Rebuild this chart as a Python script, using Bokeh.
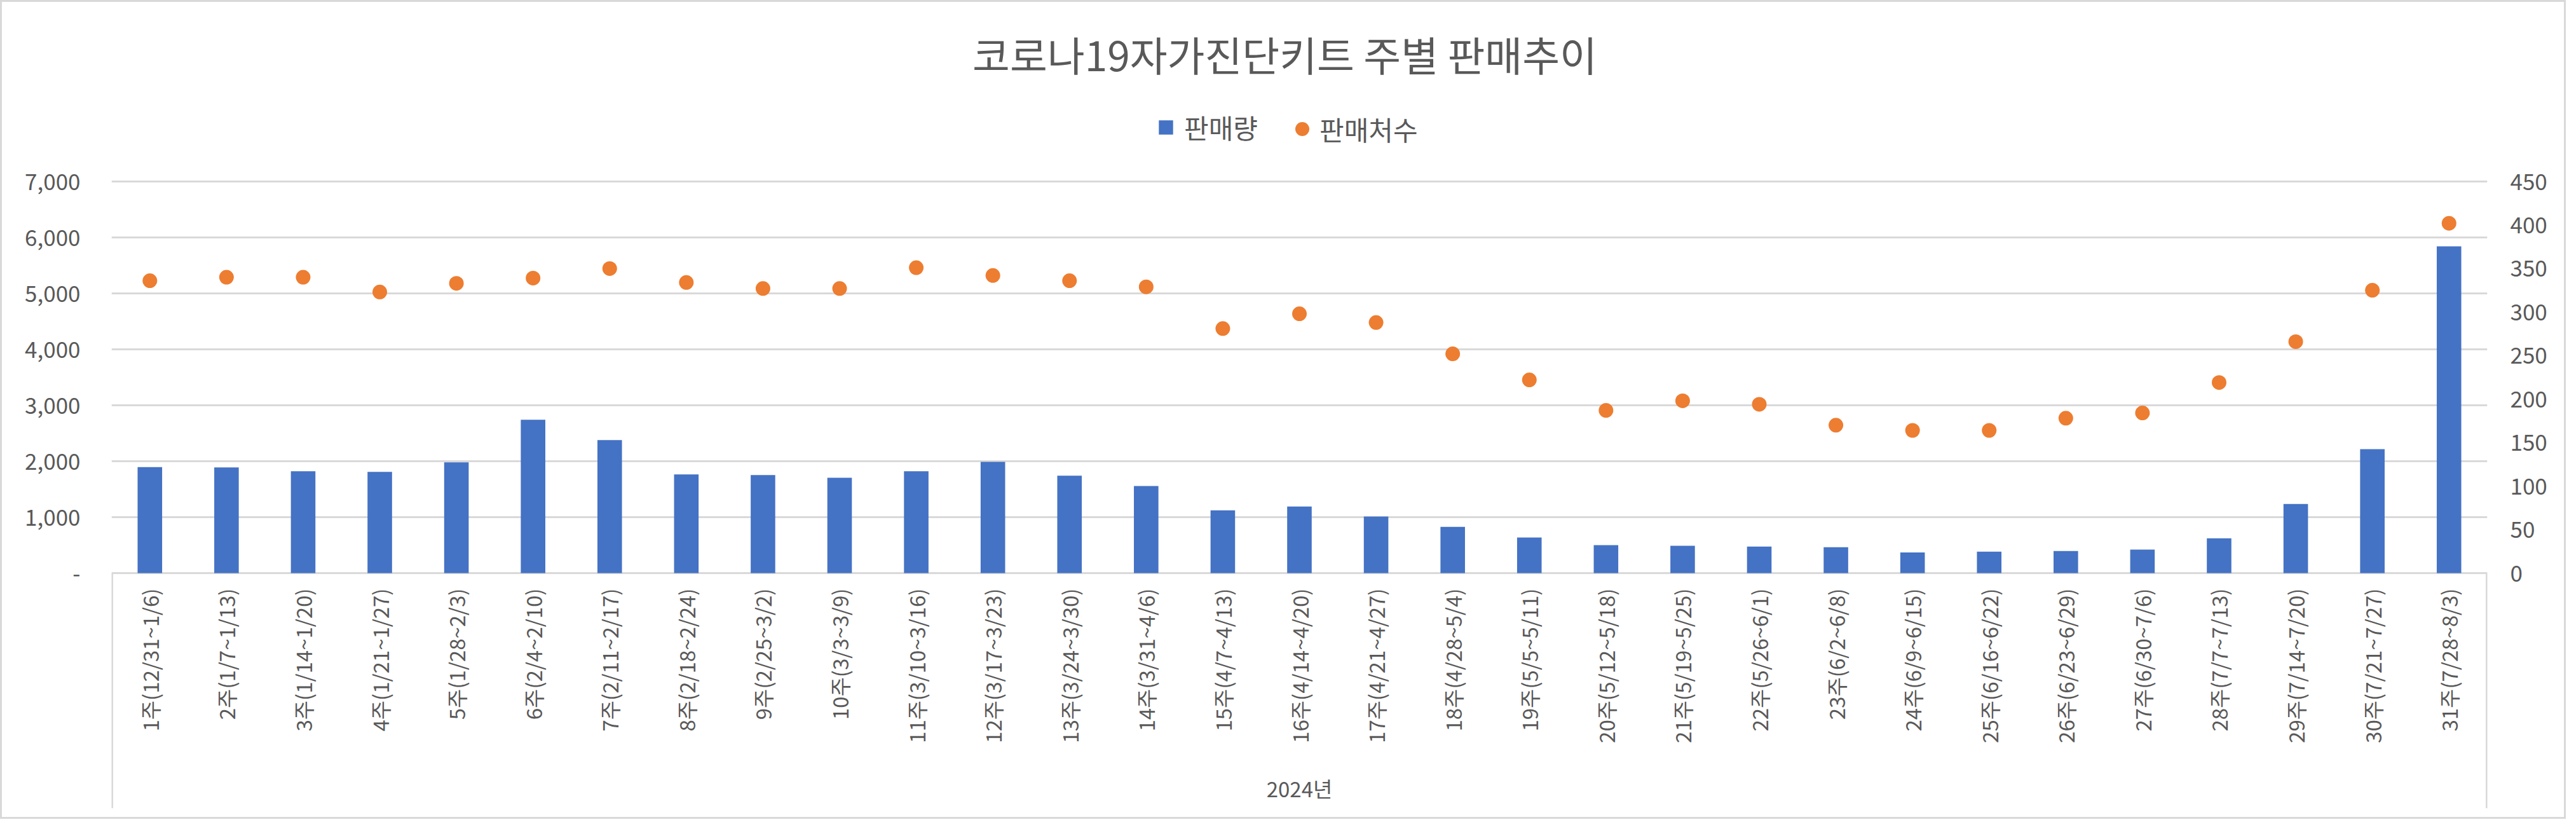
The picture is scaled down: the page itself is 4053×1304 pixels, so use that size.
import math
from bokeh.plotting import figure
from bokeh.models import (FactorRange, Range1d, LinearAxis, FixedTicker, NumeralTickFormatter,
                          ColumnDataSource, Legend, LegendItem, Label)
from bokeh.embed import file_html
from bokeh.resources import INLINE
from bokeh.core.properties import value

# ---------------- data ----------------
weeks = [
    "1주(12/31~1/6)", "2주(1/7~1/13)", "3주(1/14~1/20)", "4주(1/21~1/27)", "5주(1/28~2/3)",
    "6주(2/4~2/10)", "7주(2/11~2/17)", "8주(2/18~2/24)", "9주(2/25~3/2)", "10주(3/3~3/9)",
    "11주(3/10~3/16)", "12주(3/17~3/23)", "13주(3/24~3/30)", "14주(3/31~4/6)", "15주(4/7~4/13)",
    "16주(4/14~4/20)", "17주(4/21~4/27)", "18주(4/28~5/4)", "19주(5/5~5/11)", "20주(5/12~5/18)",
    "21주(5/19~5/25)", "22주(5/26~6/1)", "23주(6/2~6/8)", "24주(6/9~6/15)", "25주(6/16~6/22)",
    "26주(6/23~6/29)", "27주(6/30~7/6)", "28주(7/7~7/13)", "29주(7/14~7/20)", "30주(7/21~7/27)",
    "31주(7/28~8/3)",
]
sales = [1895, 1889, 1821, 1809, 1981, 2741, 2377, 1765, 1753, 1704,
         1821, 1988, 1741, 1556, 1123, 1191, 1012, 827, 636, 500,
         488, 475, 463, 370, 383, 395, 420, 623, 1235, 2216, 5840]
stores = [336, 340, 340, 323, 333, 339, 350, 334, 327, 327,
          351, 342, 336, 329, 281, 298, 288, 252, 222, 187,
          198, 194, 170, 164, 164, 178, 184, 219, 266, 325, 402]
series_names = ["판매량", "판매처수"]
title_text = "코로나19자가진단키트 주별 판매추이"
group_label = "2024년"
left_ticks = [0, 1000, 2000, 3000, 4000, 5000, 6000, 7000]
right_ticks = [0, 50, 100, 150, 200, 250, 300, 350, 400, 450]

# ---------------- style / layout ----------------
FONT = "Noto Sans CJK KR"
TXT = "#595959"
GRID = "#D9D9D9"
BAR = "#4472C4"
DOT = "#ED7D31"

W, H = 4031, 1282
ML, MR, MB = 172, 121, 14
FW = W - ML - MR
FH = H - MB                        # frame spans from the top of the canvas
ZERO_Y = 898                       # canvas y of the zero line
AXIS_PX = 616                      # pixels from the top gridline down to zero
LMAX, RMAX = left_ticks[-1], right_ticks[-1]
y_max = ZERO_Y * LMAX / AXIS_PX
y_min = -(FH - ZERO_Y) * LMAX / AXIS_PX
y2_max = ZERO_Y * RMAX / AXIS_PX
y2_min = -(FH - ZERO_Y) * RMAX / AXIS_PX

src = ColumnDataSource(dict(week=weeks, sales=sales, stores=stores))

p = figure(x_range=FactorRange(factors=weeks, range_padding=0),
           y_range=Range1d(y_min, y_max),
           frame_width=FW, frame_height=FH,
           min_border_left=ML, min_border_right=MR, min_border_top=0, min_border_bottom=MB,
           x_axis_location=None,
           styles={"border": "3px solid #D9D9D9"},
           output_backend="svg", toolbar_location=None)
p.outline_line_color = None
p.background_fill_color = "white"
p.border_fill_color = "white"
p.xgrid.visible = False

# left axis
ya = p.yaxis[0]
ya.ticker = FixedTicker(ticks=left_ticks)
ya.formatter = NumeralTickFormatter(format="0,0")
ya.major_label_overrides = {0: "-"}
ya.axis_line_color = None
ya.major_tick_line_color = None
ya.minor_tick_line_color = None
ya.major_tick_out = 0
ya.major_tick_in = 0
ya.major_label_standoff = 49
ya.major_label_text_font = FONT
ya.major_label_text_font_size = "35px"
ya.major_label_text_color = TXT

p.ygrid.ticker = FixedTicker(ticks=left_ticks)
p.ygrid.grid_line_color = GRID
p.ygrid.grid_line_width = 3

# right axis
p.extra_y_ranges = {"stores": Range1d(y2_min, y2_max)}
ra = LinearAxis(y_range_name="stores", ticker=FixedTicker(ticks=right_ticks))
ra.axis_line_color = None
ra.major_tick_line_color = None
ra.minor_tick_line_color = None
ra.major_tick_out = 0
ra.major_tick_in = 0
ra.major_label_standoff = 36
ra.major_label_text_font = FONT
ra.major_label_text_font_size = "35px"
ra.major_label_text_color = TXT
p.add_layout(ra, "right")

# bars and dots
bars = p.vbar(x="week", top="sales", width=0.32, source=src,
              fill_color=BAR, line_color=None)
dots = p.scatter(x="week", y="stores", y_range_name="stores", size=23, source=src,
                 fill_color=DOT, line_color=None)

# category labels (vertical), below the zero line
p.text(x="week", y=0, text="week", source=src, angle=math.pi / 2,
       text_align="right", text_baseline="middle", y_offset=24,
       text_font=value(FONT), text_font_size="33px", text_color=TXT)

# category box side lines
n = len(weeks)
p.segment(x0=[0, n], y0=[0, 0], x1=[0, n], y1=[y_min, y_min],
          line_color=GRID, line_width=5)

# group label
p.text(x=[n / 2], y=[0], text=[group_label], y_offset=338,
       text_align="center", text_baseline="middle",
       text_font=value(FONT), text_font_size="33px", text_color=TXT)

# title (screen units: from frame bottom-left, y upward)
p.add_layout(Label(x=FW / 2 - 23, y=FH - 80, x_units="screen", y_units="screen",
                   text=title_text, text_align="center", text_baseline="middle",
                   text_font=FONT, text_font_size="64px", text_color=TXT))

# legends
common = dict(orientation="horizontal", padding=0, margin=0, border_line_color=None,
              background_fill_alpha=0, label_text_font=FONT, label_text_font_size="42px",
              label_text_color=TXT)
leg1 = Legend(items=[LegendItem(label=series_names[0], renderers=[bars])],
              location=(1645, FH - 203 - 24), glyph_width=28, glyph_height=28,
              label_standoff=15, **common)
leg2 = Legend(items=[LegendItem(label=series_names[1], renderers=[dots])],
              location=(1846, FH - 203 - 27), glyph_width=55, glyph_height=55,
              label_standoff=0, **common)
p.add_layout(leg1)
p.add_layout(leg2)

open("out.html", "w").write(file_html(p, INLINE))
